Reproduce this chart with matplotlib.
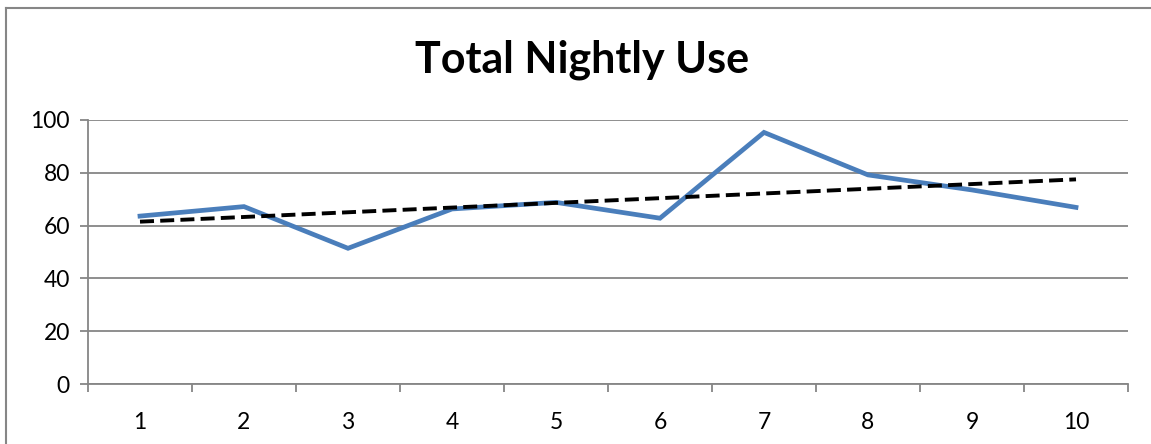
import numpy as np
import matplotlib
matplotlib.use("Agg")
import matplotlib.pyplot as plt
from matplotlib.lines import Line2D

# nightly totals
nights = [1, 2, 3, 4, 5, 6, 7, 8, 9, 10]
total_use = [63.6, 67.2, 51.4, 66.3, 68.8, 62.8, 95.3, 79.2, 73.5, 66.9]
y_ticks = [0, 20, 40, 60, 80, 100]

plt.rcParams['font.family'] = ['Lato', 'DejaVu Sans']

fig = plt.figure(figsize=(11.51, 4.44), dpi=100)
ax = fig.add_axes([88 / 1151, 60 / 444, 1040 / 1151, 264 / 444])

grey = '#868686'

# linear trendline fitted to the series
coef = np.polyfit(nights, total_use, 1)
trend = np.polyval(coef, nights)

ax.plot(nights, total_use, color='#4A7EBB', lw=3.4, solid_joinstyle='miter', zorder=3)
ax.plot(nights, trend, color='black', lw=2.8, dashes=(3.6, 1.6), zorder=4)

ax.set_xlim(0.5, 10.5)
ax.set_ylim(0, 100)
ax.set_yticks(y_ticks)
ax.set_xticks(nights)
ax.set_xticks(np.arange(0.5, 11, 1), minor=True)
ax.tick_params(axis='x', which='major', length=0, pad=20, labelsize=16.5)
ax.tick_params(axis='x', which='minor', length=6, width=1.3, color=grey, direction='out')
ax.tick_params(axis='y', length=6, width=1.3, color=grey, pad=7, labelsize=16.5)

ax.yaxis.grid(True, color=grey, lw=1.3)
ax.set_axisbelow(True)
for s in ['top', 'right']:
    ax.spines[s].set_visible(False)
for s in ['left', 'bottom']:
    ax.spines[s].set_color(grey)
    ax.spines[s].set_linewidth(1.3)

fig.text(582 / 1151, 1 - 60 / 444, 'Total Nightly Use', ha='center', va='center',
         fontsize=31, fontweight='bold')

# outer chart frame (left and top edges visible)
fig.add_artist(Line2D([6 / 1151, 6 / 1151], [0, 1 - 8 / 444], transform=fig.transFigure, color=grey, lw=1.5))
fig.add_artist(Line2D([6 / 1151, 1], [1 - 8 / 444, 1 - 8 / 444], transform=fig.transFigure, color=grey, lw=1.5))

fig.savefig('out.png', dpi=100)
